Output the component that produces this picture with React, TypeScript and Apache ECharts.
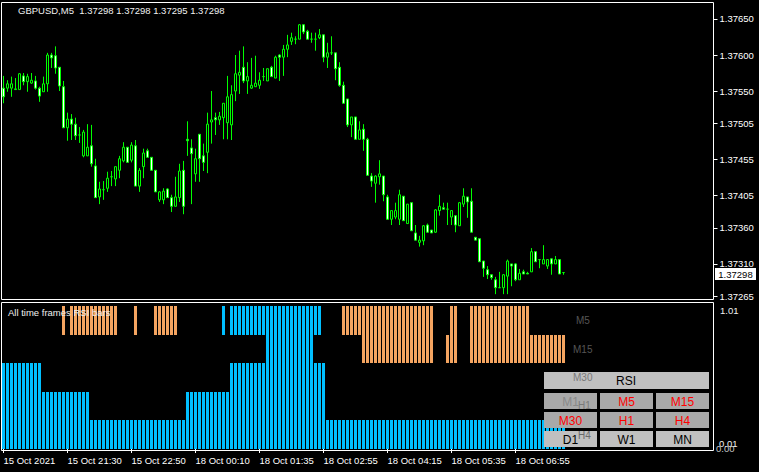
import React, { useEffect, useRef } from 'react';
import * as echarts from 'echarts';

// [open, close, low, high] per M5 bar
const candles: number[][] = [
  [1.37554, 1.37542, 1.37533, 1.37571], [1.37554, 1.37560, 1.37549, 1.37565], [1.37554, 1.37560, 1.37542, 1.37570],
  [1.37552, 1.37553, 1.37552, 1.37568], [1.37552, 1.37574, 1.37552, 1.37575], [1.37571, 1.37563, 1.37558, 1.37575],
  [1.37563, 1.37570, 1.37549, 1.37574], [1.37561, 1.37565, 1.37560, 1.37575], [1.37564, 1.37554, 1.37552, 1.37571],
  [1.37554, 1.37543, 1.37535, 1.37556], [1.37549, 1.37560, 1.37549, 1.37570], [1.37560, 1.37600, 1.37549, 1.37603],
  [1.37600, 1.37596, 1.37582, 1.37603], [1.37599, 1.37582, 1.37574, 1.37612], [1.37583, 1.37557, 1.37550, 1.37583],
  [1.37556, 1.37499, 1.37499, 1.37564], [1.37499, 1.37511, 1.37481, 1.37520], [1.37511, 1.37504, 1.37482, 1.37518],
  [1.37504, 1.37488, 1.37482, 1.37513], [1.37489, 1.37489, 1.37478, 1.37500], [1.37460, 1.37493, 1.37458, 1.37496],
  [1.37460, 1.37472, 1.37460, 1.37504], [1.37474, 1.37449, 1.37445, 1.37503], [1.37446, 1.37402, 1.37402, 1.37456],
  [1.37403, 1.37414, 1.37393, 1.37424], [1.37413, 1.37413, 1.37399, 1.37425], [1.37415, 1.37429, 1.37410, 1.37438],
  [1.37431, 1.37431, 1.37418, 1.37439], [1.37428, 1.37445, 1.37418, 1.37445], [1.37440, 1.37456, 1.37429, 1.37460],
  [1.37453, 1.37472, 1.37451, 1.37479], [1.37472, 1.37451, 1.37451, 1.37472], [1.37454, 1.37475, 1.37451, 1.37479],
  [1.37474, 1.37418, 1.37418, 1.37482], [1.37418, 1.37440, 1.37410, 1.37443], [1.37445, 1.37464, 1.37429, 1.37470],
  [1.37467, 1.37458, 1.37457, 1.37470], [1.37458, 1.37440, 1.37440, 1.37458], [1.37440, 1.37410, 1.37410, 1.37440],
  [1.37399, 1.37410, 1.37396, 1.37411], [1.37399, 1.37411, 1.37393, 1.37415], [1.37414, 1.37402, 1.37402, 1.37415],
  [1.37402, 1.37390, 1.37382, 1.37406], [1.37390, 1.37403, 1.37390, 1.37431], [1.37402, 1.37439, 1.37396, 1.37449],
  [1.37440, 1.37390, 1.37379, 1.37453], [1.37483, 1.37481, 1.37460, 1.37508], [1.37471, 1.37463, 1.37393, 1.37483],
  [1.37435, 1.37456, 1.37424, 1.37470], [1.37490, 1.37456, 1.37424, 1.37490], [1.37460, 1.37451, 1.37439, 1.37477],
  [1.37465, 1.37504, 1.37436, 1.37520], [1.37507, 1.37510, 1.37477, 1.37550], [1.37513, 1.37510, 1.37489, 1.37520],
  [1.37510, 1.37515, 1.37503, 1.37521], [1.37513, 1.37533, 1.37483, 1.37533], [1.37506, 1.37542, 1.37483, 1.37571],
  [1.37503, 1.37545, 1.37482, 1.37558], [1.37550, 1.37574, 1.37536, 1.37600], [1.37572, 1.37576, 1.37546, 1.37606],
  [1.37583, 1.37564, 1.37561, 1.37612], [1.37564, 1.37570, 1.37546, 1.37590], [1.37554, 1.37558, 1.37553, 1.37596],
  [1.37556, 1.37561, 1.37556, 1.37599], [1.37558, 1.37565, 1.37553, 1.37576], [1.37570, 1.37570, 1.37564, 1.37582],
  [1.37564, 1.37581, 1.37564, 1.37581], [1.37583, 1.37570, 1.37570, 1.37585], [1.37568, 1.37597, 1.37568, 1.37599],
  [1.37600, 1.37597, 1.37564, 1.37601], [1.37597, 1.37608, 1.37571, 1.37614], [1.37608, 1.37614, 1.37597, 1.37628],
  [1.37619, 1.37624, 1.37614, 1.37631], [1.37622, 1.37622, 1.37615, 1.37626], [1.37622, 1.37642, 1.37622, 1.37643],
  [1.37642, 1.37632, 1.37629, 1.37643], [1.37633, 1.37622, 1.37622, 1.37635], [1.37622, 1.37622, 1.37617, 1.37631],
  [1.37622, 1.37622, 1.37606, 1.37631], [1.37624, 1.37628, 1.37622, 1.37636], [1.37628, 1.37597, 1.37590, 1.37628],
  [1.37597, 1.37603, 1.37582, 1.37617], [1.37603, 1.37603, 1.37600, 1.37626], [1.37603, 1.37581, 1.37565, 1.37603],
  [1.37583, 1.37558, 1.37556, 1.37590], [1.37558, 1.37533, 1.37533, 1.37563], [1.37539, 1.37503, 1.37500, 1.37539],
  [1.37503, 1.37514, 1.37486, 1.37514], [1.37514, 1.37483, 1.37483, 1.37514], [1.37483, 1.37496, 1.37483, 1.37508],
  [1.37497, 1.37483, 1.37467, 1.37504], [1.37483, 1.37433, 1.37433, 1.37485], [1.37432, 1.37425, 1.37417, 1.37436],
  [1.37422, 1.37432, 1.37395, 1.37433], [1.37431, 1.37435, 1.37420, 1.37454], [1.37432, 1.37406, 1.37397, 1.37432],
  [1.37403, 1.37372, 1.37371, 1.37406], [1.37372, 1.37384, 1.37364, 1.37384], [1.37375, 1.37384, 1.37372, 1.37395],
  [1.37372, 1.37406, 1.37364, 1.37413], [1.37404, 1.37370, 1.37370, 1.37404], [1.37366, 1.37393, 1.37366, 1.37393],
  [1.37395, 1.37356, 1.37356, 1.37395], [1.37353, 1.37343, 1.37343, 1.37364], [1.37340, 1.37343, 1.37334, 1.37349],
  [1.37342, 1.37363, 1.37336, 1.37364], [1.37364, 1.37354, 1.37353, 1.37366], [1.37357, 1.37353, 1.37353, 1.37357],
  [1.37354, 1.37385, 1.37353, 1.37386], [1.37384, 1.37390, 1.37377, 1.37406], [1.37388, 1.37386, 1.37386, 1.37395],
  [1.37386, 1.37386, 1.37364, 1.37395], [1.37375, 1.37384, 1.37364, 1.37384], [1.37377, 1.37364, 1.37354, 1.37377],
  [1.37363, 1.37395, 1.37363, 1.37396], [1.37393, 1.37404, 1.37389, 1.37415], [1.37403, 1.37396, 1.37374, 1.37403],
  [1.37397, 1.37354, 1.37354, 1.37415], [1.37347, 1.37343, 1.37343, 1.37347], [1.37345, 1.37313, 1.37313, 1.37345],
  [1.37314, 1.37304, 1.37292, 1.37314], [1.37302, 1.37295, 1.37289, 1.37307], [1.37295, 1.37291, 1.37288, 1.37296],
  [1.37288, 1.37277, 1.37268, 1.37292], [1.37277, 1.37277, 1.37277, 1.37299], [1.37277, 1.37295, 1.37268, 1.37296],
  [1.37293, 1.37314, 1.37268, 1.37316], [1.37310, 1.37307, 1.37279, 1.37310], [1.37310, 1.37288, 1.37286, 1.37311],
  [1.37288, 1.37297, 1.37288, 1.37303], [1.37299, 1.37296, 1.37296, 1.37302], [1.37297, 1.37296, 1.37296, 1.37299],
  [1.37299, 1.37327, 1.37299, 1.37332], [1.37327, 1.37313, 1.37313, 1.37327], [1.37316, 1.37316, 1.37304, 1.37316],
  [1.37310, 1.37316, 1.37310, 1.37336], [1.37307, 1.37316, 1.37303, 1.37316], [1.37317, 1.37310, 1.37295, 1.37318],
  [1.37310, 1.37316, 1.37310, 1.37321], [1.37316, 1.37296, 1.37296, 1.37316], [1.37298, 1.37298, 1.37295, 1.37298],
];

const priceTicks = [1.3765, 1.376, 1.3755, 1.37505, 1.37455, 1.37405, 1.3736, 1.3731, 1.37265];
const lastPrice = 1.37298;
const titleText = 'GBPUSD,M5  1.37298 1.37298 1.37295 1.37298';

const timeTickIndex = [0, 16, 32, 48, 64, 80, 96, 112, 128];
const timeTickLabels = ['15 Oct 2021', '15 Oct 21:30', '15 Oct 22:50', '18 Oct 00:10', '18 Oct 01:35',
  '18 Oct 02:55', '18 Oct 04:15', '18 Oct 05:35', '18 Oct 06:55'];

// RSI state runs per timeframe: [firstBar, lastBar, 'up' | 'dn']
const rsiM5: [number, number, string][] = [[15, 15, 'dn'], [17, 28, 'dn'], [33, 33, 'dn'], [38, 43, 'dn'], [55, 55, 'up'],
  [57, 79, 'up'], [85, 107, 'dn'], [112, 113, 'dn'], [117, 131, 'dn']];
const rsiM15: [number, number, string][] = [[66, 77, 'up'], [90, 107, 'dn'], [111, 113, 'dn'], [117, 140, 'dn']];
const rsiM30: [number, number, string][] = [[0, 9, 'up'], [57, 80, 'up']];
const rsiH1: [number, number, string][] = [[0, 21, 'up'], [46, 80, 'up']];
const rsiH4: [number, number, string][] = [[0, 140, 'up']];
const rsiRowsBottomUp = [rsiH4, rsiH1, rsiM30, rsiM15, rsiM5];
const rsiRowNames = ['M5', 'M15', 'M30', 'H1', 'H4'];
const subAxisLabels = ['1.01', '0.00', '0.01'];

const buttonRows = [['M1', 'M5', 'M15'], ['M30', 'H1', 'H4'], ['D1', 'W1', 'MN']];
const buttonTextColors = [['#8a8a8a', '#ff0000', '#ff0000'], ['#ff0000', '#ff0000', '#ff0000'], ['#000', '#000', '#000']];

const SLOTS = 178;
const FONT = '"Liberation Sans", Arial, sans-serif';

export default function App() {
  const ref = useRef<HTMLDivElement>(null);
  useEffect(() => {
    const chart = echarts.init(ref.current!, null, { renderer: 'svg' });
    const categories = Array.from({ length: SLOTS }, (_, i) => String(i));
    const rsiItems: number[][] = [];
    rsiRowsBottomUp.forEach((runs, r) => runs.forEach(([s, e, c]) => {
      for (let i = s; i <= e; i++) rsiItems.push([i, r, c === 'up' ? 0 : 1]);
    }));
    const isTick = (idx: number) => timeTickIndex.indexOf(idx) >= 0;

    const graphics: any[] = [
      { type: 'text', x: 18, y: 10.5, z: 100, style: { text: titleText, fill: '#f0f0f0', fontSize: 9.5, fontFamily: FONT, verticalAlign: 'middle' } },
      { type: 'text', x: 8, y: 312.5, z: 100, style: { text: 'All time frames RSI bars', fill: '#f0f0f0', fontSize: 9.5, fontFamily: FONT, verticalAlign: 'middle' } },
      { type: 'text', x: 720, y: 310, z: 100, style: { text: subAxisLabels[0], fill: '#f0f0f0', fontSize: 9.5, fontFamily: FONT, verticalAlign: 'middle' } },
      { type: 'text', x: 716, y: 448, z: 100, style: { text: subAxisLabels[1], fill: '#c8c8c8', fontSize: 9.5, fontFamily: FONT, verticalAlign: 'middle' } },
      { type: 'text', x: 719, y: 443.5, z: 101, style: { text: subAxisLabels[2], fill: '#f0f0f0', fontSize: 9.5, fontFamily: FONT, verticalAlign: 'middle' } },
      { type: 'rect', z: 100, shape: { x: 544, y: 372, width: 165, height: 17 }, style: { fill: '#c0c0c0' } },
      { type: 'text', x: 626, y: 381, z: 101, style: { text: 'RSI', fill: '#000', fontSize: 12, fontFamily: FONT, align: 'center', verticalAlign: 'middle' } },
    ];
    const rowY = [393, 412, 431];
    const colX = [544, 600, 656];
    buttonRows.forEach((row, ri) => row.forEach((label, ci) => {
      graphics.push({ type: 'rect', z: 100, shape: { x: colX[ci], y: rowY[ri], width: 53, height: 16 }, style: { fill: ri === 2 ? '#c0c0c0' : '#a9a9a9' } });
      graphics.push({ type: 'text', x: colX[ci] + 26.5, y: rowY[ri] + 8.5, z: 101, style: { text: label, fill: buttonTextColors[ri][ci], fontSize: 12, fontFamily: FONT, align: 'center', verticalAlign: 'middle' } });
    }));
    const rowLabelPos = [[576, 320, '#555'], [573, 349, '#555'], [573, 377, '#7a7a7a'], [578, 405, '#7a7a7a'], [578, 435, '#6a6a6a']];
    rsiRowNames.forEach((name, k) => {
      graphics.push({ type: 'text', x: rowLabelPos[k][0], y: rowLabelPos[k][1], z: 102, style: { text: name, fill: rowLabelPos[k][2], fontSize: 10, fontFamily: FONT, verticalAlign: 'middle' } });
    });

    chart.setOption({
      animation: false,
      backgroundColor: '#000',
      grid: [
        { left: 1.5, top: 2.5, width: 712, height: 297, show: true, borderColor: '#fff', borderWidth: 1, backgroundColor: 'transparent' },
        { left: 1.5, top: 302.5, width: 712, height: 148, show: true, borderColor: '#fff', borderWidth: 1, backgroundColor: 'transparent' },
      ],
      xAxis: [
        { type: 'category', gridIndex: 0, data: categories, boundaryGap: true, axisLine: { show: false }, axisTick: { show: false }, axisLabel: { show: false }, splitLine: { show: false } },
        {
          type: 'category', gridIndex: 1, data: categories, boundaryGap: true, axisLine: { show: false },
          axisTick: { show: true, alignWithLabel: true, interval: (idx: number) => isTick(idx), length: 4, lineStyle: { color: '#fff' } },
          axisLabel: {
            interval: (idx: number) => isTick(idx), align: 'left', color: '#fff', fontSize: 9.5, fontFamily: FONT, margin: 5,
            formatter: (_v: string, idx: number) => { const k = timeTickIndex.indexOf(idx); return k >= 0 ? timeTickLabels[k] : ''; },
          },
          splitLine: { show: false },
        },
      ],
      yAxis: [
        {
          type: 'value', gridIndex: 0, position: 'right', min: 1.372606, max: 1.376729, splitLine: { show: false }, axisLine: { show: false },
          axisTick: { show: true, customValues: priceTicks, length: 4, lineStyle: { color: '#fff' } },
          axisLabel: { customValues: priceTicks, color: '#fff', fontSize: 9.5, fontFamily: FONT, margin: 6, formatter: (v: number) => v.toFixed(5) },
        },
        { type: 'value', gridIndex: 1, min: -0.0524, max: 5.1224, show: false },
      ],
      graphic: graphics,
      series: [
        {
          type: 'candlestick', xAxisIndex: 0, yAxisIndex: 0, data: candles, barWidth: 3,
          itemStyle: { color: '#000', color0: '#fff', borderColor: '#00ff00', borderColor0: '#00ff00', borderWidth: 1 },
        },
        {
          type: 'custom', xAxisIndex: 1, yAxisIndex: 1, data: rsiItems, encode: { x: 0, y: 1 },
          renderItem: (_p: any, api: any) => {
            const i = api.value(0), r = api.value(1), c = api.value(2);
            const a = api.coord([i, r]);
            const b = api.coord([i, r + 1]);
            const yTop = Math.round(b[1]);
            const yBot = Math.round(a[1]);
            return { type: 'rect', shape: { x: a[0] - 1.5, y: yTop, width: 3, height: yBot - yTop }, style: { fill: c === 0 ? '#00bfff' : '#f4a460' } };
          },
        },
      ],
    });

    // current price tag, placed through the price axis scale
    const py = chart.convertToPixel({ yAxisIndex: 0 }, lastPrice) as number;
    const tagY = Math.round(py) + 1;
    chart.setOption({
      graphic: [
        ...graphics,
        { type: 'rect', z: 110, shape: { x: 715, y: tagY - 6, width: 41, height: 12 }, style: { fill: '#fff' } },
        { type: 'text', x: 735.5, y: tagY, z: 111, style: { text: lastPrice.toFixed(5), fill: '#000', fontSize: 9.5, fontFamily: FONT, align: 'center', verticalAlign: 'middle' } },
      ],
    });
    return () => chart.dispose();
  }, []);
  return <div ref={ref} style={{ position: 'fixed', left: 0, top: 0, width: 759, height: 472, background: '#000' }} />;
}
